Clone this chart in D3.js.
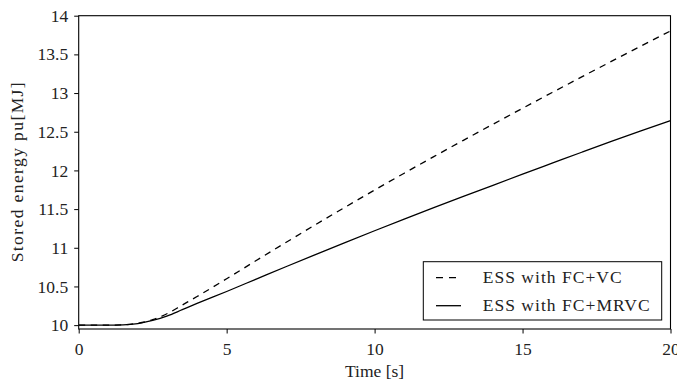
<!DOCTYPE html>
<html>
<head>
<meta charset="utf-8">
<script src="https://cdn.jsdelivr.net/npm/d3@7"></script>
<style>
  body { margin: 0; background: #fff; }
  svg text { font-family: "Liberation Serif", "Times New Roman", serif; fill: #222; }
</style>
</head>
<body>
<div id="chart"></div>
<script>
// time [s]
const time = [0, 1, 1.5, 2, 2.5, 3, 3.5, 4, 5, 6, 7, 8, 9, 10, 11, 12, 13, 14, 15, 16, 17, 18, 19, 20];
// ESS with FC+VC (dashed)
const energyVC = [10, 10, 10.003, 10.025, 10.07, 10.15, 10.26, 10.37, 10.60, 10.835, 11.068, 11.298, 11.524, 11.746,
  11.964, 12.178, 12.389, 12.597, 12.803, 13.007, 13.209, 13.409, 13.607, 13.803];
// ESS with FC+MRVC (solid)
const energyMRVC = [10, 10, 10.003, 10.02, 10.06, 10.12, 10.2, 10.28, 10.435, 10.595, 10.755, 10.912, 11.067, 11.22,
  11.37, 11.518, 11.664, 11.808, 11.951, 12.093, 12.235, 12.375, 12.511, 12.645];
const xTicks = [0, 5, 10, 15, 20];
const yTicks = [10, 10.5, 11, 11.5, 12, 12.5, 13, 13.5, 14];
const seriesNames = ["ESS with FC+VC", "ESS with FC+MRVC"];

const width = 677, height = 383;
const margin = { left: 78.7, right: 6.5, top: 15.7, bottom: 54 };
const font = "'Liberation Serif', 'Times New Roman', serif";

const svg = d3.select("#chart").append("svg")
  .attr("width", width)
  .attr("height", height);

const x = d3.scaleLinear().domain([0, 20]).range([margin.left, width - margin.right]);
const y = d3.scaleLinear().domain([9.95, 14]).range([height - margin.bottom, margin.top]);

svg.append("defs").append("clipPath").attr("id", "clip")
  .append("rect")
  .attr("x", x(0)).attr("y", y(14))
  .attr("width", x(20) - x(0)).attr("height", y(9.95) - y(14));

// axes
const xAxis = svg.append("g")
  .attr("transform", "translate(0," + y(9.95) + ")")
  .call(d3.axisBottom(x).tickValues(xTicks).tickSize(4.5).tickPadding(6).tickFormat(d3.format("d")));
const yAxis = svg.append("g")
  .attr("transform", "translate(" + x(0) + ",0)")
  .call(d3.axisLeft(y).tickValues(yTicks).tickSize(4.5).tickPadding(6).tickFormat(d => d));

[xAxis, yAxis].forEach(g => {
  g.attr("font-family", font);
  g.select(".domain").remove();
  g.selectAll(".tick line").attr("stroke", "#000").attr("stroke-width", 1);
  g.selectAll(".tick text").style("font-size", "17.5px").style("font-family", font).attr("fill", "#222");
});
xAxis.selectAll(".tick text").attr("dy", "0.9em");

// lines
const line = d3.line().x((d, i) => x(time[i])).y(d => y(d)).curve(d3.curveMonotoneX);
const plot = svg.append("g").attr("clip-path", "url(#clip)");
plot.append("path")
  .datum(energyVC)
  .attr("d", line)
  .attr("fill", "none")
  .attr("stroke", "#000")
  .attr("stroke-width", 1.3)
  .attr("stroke-dasharray", "6.5,5.5");
plot.append("path")
  .datum(energyMRVC)
  .attr("d", line)
  .attr("fill", "none")
  .attr("stroke", "#000")
  .attr("stroke-width", 1.3);

// frame
svg.append("rect")
  .attr("x", x(0)).attr("y", y(14))
  .attr("width", x(20) - x(0)).attr("height", y(9.95) - y(14))
  .attr("fill", "none")
  .attr("stroke", "#000")
  .attr("stroke-width", 1.1);

// axis labels
svg.append("text")
  .attr("x", (x(0) + x(20)) / 2)
  .attr("y", 376.5)
  .attr("text-anchor", "middle")
  .style("font-size", "17.5px")
  .text("Time [s]");
svg.append("text")
  .attr("transform", "translate(23," + (y(9.95) + y(14)) / 2 + ") rotate(-90)")
  .attr("text-anchor", "middle")
  .style("font-size", "17.5px")
  .attr("textLength", 180)
  .text("Stored energy pu[MJ]");

// legend
const legend = svg.append("g");
legend.append("rect")
  .attr("x", 423.3).attr("y", 261.7)
  .attr("width", 238.4).attr("height", 58.3)
  .attr("fill", "#fff")
  .attr("stroke", "#000")
  .attr("stroke-width", 1);
seriesNames.forEach((name, i) => {
  const ly = 277.7 + i * 28;
  legend.append("line")
    .attr("x1", 436).attr("x2", 461)
    .attr("y1", ly).attr("y2", ly)
    .attr("stroke", "#000")
    .attr("stroke-width", 1.3)
    .attr("stroke-dasharray", i === 0 ? "7,6" : null);
  legend.append("text")
    .attr("x", 482.7)
    .attr("y", ly + 5.5)
    .style("font-size", "17.5px")
    .attr("textLength", i === 0 ? 139 : 167)
    .text(name);
});
</script>
</body>
</html>
